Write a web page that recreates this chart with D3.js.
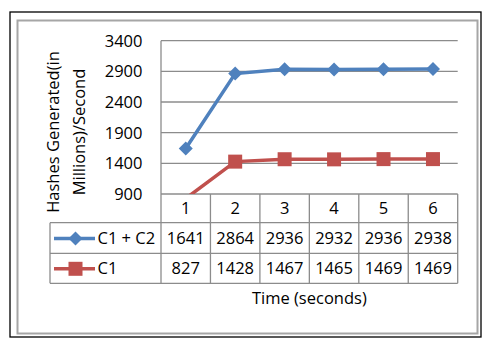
<!doctype html>
<meta charset="utf-8">
<title>Hashes Generated</title>
<style>
    body {
        margin: 0;
        background: white;
    }

    svg {
        display: block;
        font-family: "Open Sans", sans-serif;
    }

    text {
        fill: #000;
        font-size: 16.5px;
    }

    .grid line,
    .table line {
        stroke: #8c8c8c;
        stroke-width: 1.3;
    }

    .line {
        fill: none;
        stroke-width: 3.5;
    }
</style>
<svg width=490 height=354></svg>
<script src="https://cdn.jsdelivr.net/npm/d3@7"></script>
<script>
    var times = ['1', '2', '3', '4', '5', '6'];
    var seriesNames = ['C1 + C2', 'C1'];
    var c1c2 = [1641, 2864, 2936, 2932, 2936, 2938];
    var c1 = [827, 1428, 1467, 1465, 1469, 1469];
    var yTicks = [900, 1400, 1900, 2400, 2900, 3400];
    var colors = ['#4f81bd', '#c0504d'];

    var series = [
        { name: seriesNames[0], values: c1c2, marker: 'diamond' },
        { name: seriesNames[1], values: c1, marker: 'square' }
    ];

    var svg = d3.select('svg');

    // frame
    svg.append('rect')
        .attr('x', 10).attr('y', 12).attr('width', 471).attr('height', 325)
        .attr('fill', 'none').attr('stroke', '#000').attr('stroke-width', 1.3);
    svg.append('rect')
        .attr('x', 17.5).attr('y', 20.5).attr('width', 460).attr('height', 313)
        .attr('fill', 'none').attr('stroke', '#a6a6a6').attr('stroke-width', 2);

    var plot = { left: 161, right: 457.7, top: 40.7, bottom: 194 };
    var rowH = [28.7, 30.6, 30];
    var legendLeft = 50;

    var x = d3.scaleBand().domain(times).range([plot.left, plot.right]);
    var y = d3.scaleLinear().domain([900, 3400]).range([plot.bottom, plot.top]);

    // gridlines
    svg.append('g').attr('class', 'grid')
        .selectAll('line').data(yTicks).enter().append('line')
        .attr('x1', plot.left).attr('x2', plot.right)
        .attr('y1', function (d) { return y(d); })
        .attr('y2', function (d) { return y(d); });

    // y tick labels
    svg.append('g')
        .selectAll('text').data(yTicks).enter().append('text')
        .attr('x', 142.5)
        .attr('y', function (d) { return y(d); })
        .attr('dy', '0.36em')
        .attr('text-anchor', 'end')
        .text(function (d) { return d; });

    // y axis title
    var yt = svg.append('text')
        .attr('transform', 'translate(66,132) rotate(-90)')
        .attr('text-anchor', 'middle');
    yt.append('tspan').attr('x', 0).attr('dy', '-0.45em').text('Hashes Generated(in');
    yt.append('tspan').attr('x', 0).attr('dy', '1.6em').text('Millions)/Second');

    // data table
    var r0 = plot.bottom, r1 = r0 + rowH[0], r2 = r1 + rowH[1], r3 = r2 + rowH[2];
    var table = svg.append('g').attr('class', 'table');
    [r1, r2, r3].forEach(function (ry) {
        table.append('line').attr('x1', legendLeft).attr('x2', plot.right).attr('y1', ry).attr('y2', ry);
    });
    table.append('line').attr('x1', legendLeft).attr('x2', legendLeft).attr('y1', r1).attr('y2', r3);
    table.append('line').attr('x1', plot.left).attr('x2', plot.left).attr('y1', plot.top).attr('y2', r3);
    table.selectAll('.col').data(times).enter().append('line')
        .attr('x1', function (d) { return x(d) + x.bandwidth(); })
        .attr('x2', function (d) { return x(d) + x.bandwidth(); })
        .attr('y1', r0).attr('y2', r3);

    svg.append('g').selectAll('text').data(times).enter().append('text')
        .attr('x', function (d) { return x(d) + x.bandwidth() / 2; })
        .attr('y', (r0 + r1) / 2)
        .attr('dy', '0.36em')
        .attr('text-anchor', 'middle')
        .text(function (d) { return d; });

    var rowMid = [(r1 + r2) / 2, (r2 + r3) / 2];

    series.forEach(function (s, i) {
        var g = svg.append('g');
        g.selectAll('text').data(s.values).enter().append('text')
            .attr('x', function (d, j) { return x(times[j]) + x.bandwidth() / 2; })
            .attr('y', rowMid[i])
            .attr('dy', '0.36em')
            .attr('text-anchor', 'middle')
            .text(function (d) { return d; });
        // legend key
        g.append('line')
            .attr('x1', 54).attr('x2', 95)
            .attr('y1', rowMid[i] + 0.5).attr('y2', rowMid[i] + 0.5)
            .attr('stroke', colors[i]).attr('stroke-width', 3.5);
        drawMarker(g, s.marker, 75.5, rowMid[i] + 0.5, colors[i]);
        g.append('text')
            .attr('x', 97.5).attr('y', rowMid[i])
            .attr('dy', '0.36em')
            .text(s.name);
    });

    // x axis title
    svg.append('text')
        .attr('x', (plot.left + plot.right) / 2)
        .attr('y', 304)
        .attr('text-anchor', 'middle')
        .text('Time (seconds)');

    // lines, clipped to plot area
    svg.append('clipPath').attr('id', 'clip')
        .append('rect')
        .attr('x', plot.left).attr('y', plot.top - 10)
        .attr('width', plot.right - plot.left).attr('height', plot.bottom - plot.top + 10);

    var line = d3.line()
        .x(function (d, j) { return x(times[j]) + x.bandwidth() / 2; })
        .y(function (d) { return y(d); });

    var lines = svg.append('g').attr('clip-path', 'url(#clip)');
    series.slice().reverse().forEach(function (s, k) {
        var i = series.length - 1 - k;
        lines.append('path')
            .attr('class', 'line')
            .attr('d', line(s.values))
            .attr('stroke', colors[i]);
        s.values.forEach(function (v, j) {
            // markers below the axis minimum are not drawn
            if (v < y.domain()[0]) return;
            drawMarker(lines, s.marker, x(times[j]) + x.bandwidth() / 2, y(v), colors[i]);
        });
    });

    function drawMarker(g, type, cx, cy, color) {
        if (type === 'diamond') {
            var r = 7;
            g.append('path')
                .attr('d', 'M' + cx + ',' + (cy - r) + 'L' + (cx + r) + ',' + cy + 'L' + cx + ',' + (cy + r) + 'L' + (cx - r) + ',' + cy + 'Z')
                .attr('fill', color);
        } else {
            var h = 7;
            g.append('rect')
                .attr('x', cx - h).attr('y', cy - h)
                .attr('width', 2 * h).attr('height', 2 * h)
                .attr('fill', color);
        }
    }
</script>
